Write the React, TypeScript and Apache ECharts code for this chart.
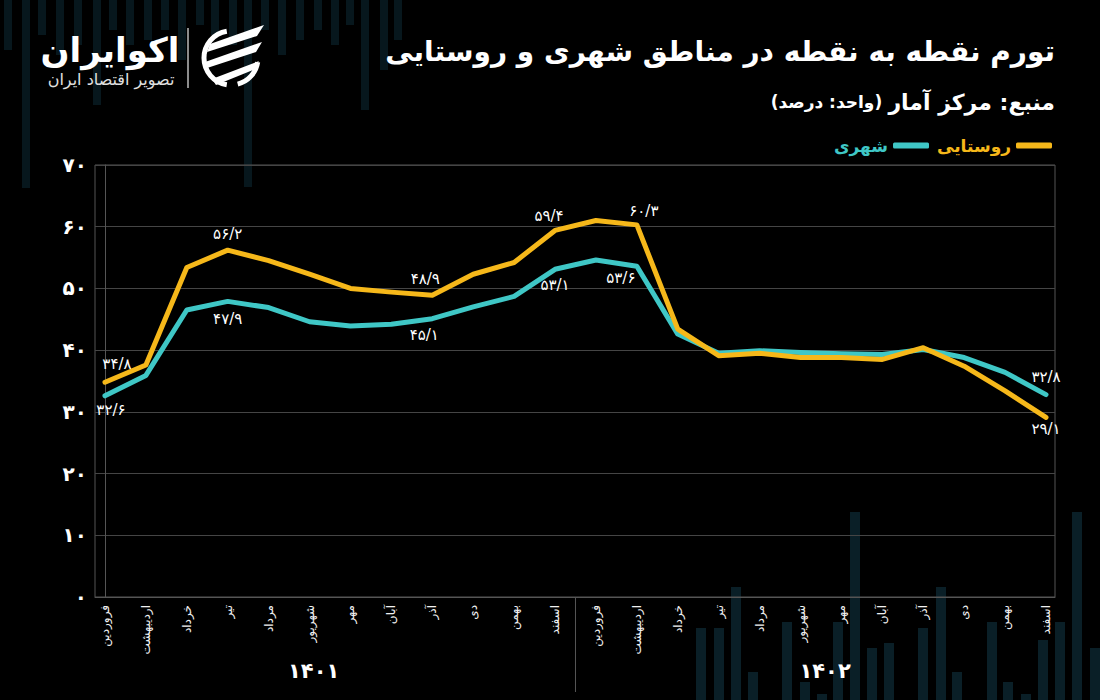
import React, { useEffect, useRef } from "react";
import * as echarts from "echarts";

// ---- data ----
const months = ["فروردین", "اردیبهشت", "خرداد", "تیر", "مرداد", "شهریور", "مهر", "آبان", "آذر", "دی", "بهمن", "اسفند"];
const years = ["۱۴۰۱", "۱۴۰۲"];
const categories = [...months, ...months];
const urban = [32.6, 35.9, 46.5, 47.9, 46.9, 44.6, 43.9, 44.2, 45.1, 47.0, 48.7, 53.1, 54.6, 53.6, 42.6, 39.5, 39.9, 39.6, 39.4, 39.3, 40.1, 38.8, 36.4, 32.8];
const rural = [34.8, 37.6, 53.4, 56.2, 54.5, 52.3, 50.0, 49.4, 48.9, 52.3, 54.2, 59.4, 61.0, 60.3, 43.4, 39.1, 39.5, 38.8, 38.8, 38.5, 40.4, 37.4, 33.4, 29.1];
const yTicks = [0, 10, 20, 30, 40, 50, 60, 70];
const urbanName = "شهری";
const ruralName = "روستایی";
const titleText = "تورم نقطه به نقطه در مناطق شهری و روستایی";
const sourceText = "منبع: مرکز آمار";
const unitText = "(واحد: درصد)";
const brandName = "اکوایران";
const brandTag = "تصویر اقتصاد ایران";

// which points carry value labels (styling/placement kept separate)
const urbanLabelPlacement: Record<number, any> = {
  0: { position: "bottom", offset: [6, 0], distance: 6 },
  3: { position: "bottom", distance: 10 },
  8: { position: "bottom", offset: [-8, 0], distance: 8 },
  11: { position: "bottom", distance: 8 },
  13: { position: "bottom", offset: [-16, -4], distance: 8 },
  23: { position: "top", distance: 10 },
};
const ruralLabelPlacement: Record<number, any> = {
  0: { position: "top", offset: [12, -2], distance: 8 },
  3: { position: "top", distance: 8 },
  8: { position: "top", offset: [-7, 0], distance: 8 },
  11: { position: "top", offset: [-6, 0], distance: 6 },
  13: { position: "top", offset: [7, 0], distance: 6 },
  23: { position: "bottom", distance: 4 },
};

// decorative background bars [x center, y edge]
const bottomBars = [[701, 628], [719, 628], [736, 587], [753, 672], [787, 622], [805, 682], [822, 694], [838, 622], [855, 512], [872, 648], [889, 643], [923, 628], [941, 587], [957, 672], [992, 622], [1008, 682], [1026, 694], [1043, 640], [1060, 622], [1077, 512], [1095, 648]];
const topBars = [[8, 50], [26, 188], [42, 35], [60, 55], [78, 45], [97, 105], [113, 30], [130, 45], [148, 40], [165, 30], [182, 60], [200, 25], [215, 35], [233, 45], [248, 187], [265, 30], [282, 55], [300, 40], [318, 30], [335, 45], [350, 25], [365, 110], [384, 70], [398, 40]];

const YELLOW = "#f6b81a";
const CYAN = "#3fc7c6";
const FONT = '"DejaVu Sans", sans-serif';
const FA = "۰۱۲۳۴۵۶۷۸۹";
const toFa = (v: number | string) => String(v).replace(/[0-9]/g, (d) => FA[+d]).replace(".", "/");

const X_MIN = -0.244;
const X_MAX = 23.22;

function buildData(values: number[], placement: Record<number, any>) {
  return values.map((v, i) => {
    const p = placement[i];
    const item: any = { value: [i, v] };
    if (p) {
      item.label = {
        show: true,
        position: p.position,
        offset: p.offset || [0, 0],
        distance: p.distance,
        color: "#ffffff",
        fontSize: 15,
        fontFamily: FONT,
        formatter: (q: any) => toFa(q.value[1].toFixed(1)),
      };
    }
    return item;
  });
}

export default function App() {
  const ref = useRef<HTMLDivElement>(null);
  useEffect(() => {
    const el = ref.current!;
    const chart = echarts.init(el, null, { renderer: "svg" });
    chart.setOption({
      animation: false,
      backgroundColor: "#000000",
      textStyle: { fontFamily: FONT },
      title: [
        {
          text: titleText,
          right: 40,
          top: 32,
          textStyle: { color: "#ffffff", fontSize: 28, fontWeight: "bold", fontFamily: FONT },
        },
        {
          text: `{n|${unitText}} {b|${sourceText}}`,
          right: 40,
          top: 86,
          textStyle: {
            rich: {
              n: { color: "#ffffff", fontSize: 17, fontFamily: FONT },
              b: { color: "#ffffff", fontSize: 22, fontWeight: "bold", fontFamily: FONT },
            },
          },
        },
      ],
      legend: {
        right: 43,
        top: 132,
        align: "right",
        icon: "roundRect",
        itemWidth: 36,
        itemHeight: 6,
        itemGap: 8,
        textStyle: { fontSize: 17, fontWeight: "bold", fontFamily: FONT },
        data: [
          { name: urbanName, textStyle: { color: CYAN } },
          { name: ruralName, textStyle: { color: YELLOW } },
        ],
      },
      grid: { left: 95, right: 45, top: 165, bottom: 103, show: true, borderColor: "#555", borderWidth: 1 },
      xAxis: {
        type: "value",
        min: X_MIN,
        max: X_MAX,
        axisLine: { show: true, lineStyle: { color: "#555" } },
        axisTick: { show: false },
        splitLine: { show: false },
        axisLabel: {
          customValues: categories.map((_, i) => i),
          formatter: (v: number) => categories[Math.round(v)] ?? "",
          rotate: 90,
          fontSize: 12,
          color: "#f0f0f0",
          margin: 8,
          fontFamily: FONT,
        },
      },
      yAxis: {
        type: "value",
        min: yTicks[0],
        max: yTicks[yTicks.length - 1],
        interval: yTicks[1] - yTicks[0],
        axisLine: { show: true, lineStyle: { color: "#555" } },
        axisTick: { show: false },
        splitLine: { lineStyle: { color: "#454545" } },
        axisLabel: { formatter: (v: number) => toFa(v), color: "#ffffff", fontSize: 20, fontWeight: "bold", margin: 8, fontFamily: FONT },
      },
      series: [
        {
          type: "line",
          name: urbanName,
          data: buildData(urban, urbanLabelPlacement),
          symbol: "circle",
          symbolSize: 1,
          showSymbol: true,
          itemStyle: { color: CYAN },
          lineStyle: { width: 5, color: CYAN, cap: "round", join: "round" },
          z: 3,
        },
        {
          type: "line",
          name: ruralName,
          data: buildData(rural, ruralLabelPlacement),
          symbol: "circle",
          symbolSize: 1,
          showSymbol: true,
          itemStyle: { color: YELLOW },
          lineStyle: { width: 5, color: YELLOW, cap: "round", join: "round" },
          z: 4,
        },
      ],
    });

    const sep = chart.convertToPixel({ xAxisIndex: 0, yAxisIndex: 0 }, [11.5, 0]) as number[];
    const y1 = chart.convertToPixel({ xAxisIndex: 0, yAxisIndex: 0 }, [5.1, 0]) as number[];
    const y2 = chart.convertToPixel({ xAxisIndex: 0, yAxisIndex: 0 }, [17.6, 0]) as number[];
    const graphic: any[] = [];
    bottomBars.forEach(([x, y]) =>
      graphic.push({ type: "rect", z: -10, silent: true, shape: { x: x - 5, y, width: 10, height: 700 - y }, style: { fill: "#0a1f27" } })
    );
    topBars.forEach(([x, y]) =>
      graphic.push({ type: "rect", z: -10, silent: true, shape: { x: x - 4, y: 0, width: 8, height: y }, style: { fill: "#07171d" } })
    );
    graphic.push(
      { type: "line", shape: { x1: sep[0], y1: sep[1], x2: sep[0], y2: 692 }, style: { stroke: "#555", lineWidth: 1 } },
      { type: "text", x: y1[0], y: 671, style: { text: years[0], fill: "#fff", font: `bold 21px ${FONT}`, textAlign: "center", textVerticalAlign: "middle" } },
      { type: "text", x: y2[0], y: 671, style: { text: years[1], fill: "#fff", font: `bold 21px ${FONT}`, textAlign: "center", textVerticalAlign: "middle" } },
      // brand
      { type: "text", x: 110, y: 50, style: { text: brandName, fill: "#fff", font: `bold 34px ${FONT}`, textAlign: "center", textVerticalAlign: "middle" } },
      { type: "text", x: 111, y: 79, style: { text: brandTag, fill: "#e0e0e0", font: `16px ${FONT}`, textAlign: "center", textVerticalAlign: "middle" } },
      { type: "line", shape: { x1: 188, y1: 28, x2: 188, y2: 88 }, style: { stroke: "#bbb", lineWidth: 1.5 } },
      { type: "arc", shape: { cx: 231, cy: 58, r: 27, startAngle: Math.PI * 0.55, endAngle: Math.PI * 1.45, clockwise: true }, style: { stroke: "#fff", lineWidth: 5, fill: "none" } },
      { type: "arc", shape: { cx: 231, cy: 58, r: 27, startAngle: Math.PI * 0.05, endAngle: Math.PI * 0.42, clockwise: true }, style: { stroke: "#fff", lineWidth: 5, fill: "none" } },
      { type: "polygon", shape: { points: [[210, 44], [264, 25], [257, 36], [207, 52]] }, style: { fill: "#fff" } },
      { type: "polygon", shape: { points: [[205, 62], [262, 42], [256, 52], [204, 69]] }, style: { fill: "#fff" } },
      { type: "polygon", shape: { points: [[212, 79], [259, 61], [253, 70], [216, 85]] }, style: { fill: "#fff" } }
    );
    chart.setOption({ graphic });
    return () => chart.dispose();
  }, []);
  return <div ref={ref} style={{ position: "fixed", left: 0, top: 0, width: 1100, height: 700, background: "#000" }} />;
}
